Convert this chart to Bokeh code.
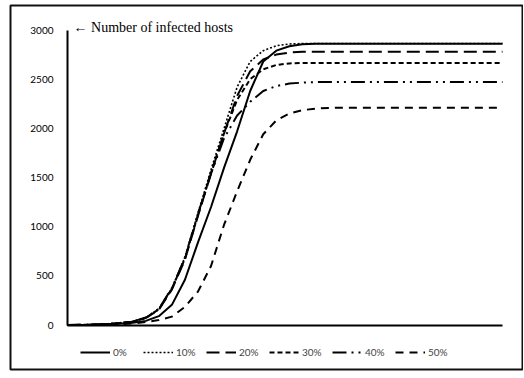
from bokeh.plotting import figure
from bokeh.models import LinearAxis, Range1d, Label, Legend, LegendItem, FixedTicker
from bokeh.embed import file_html
from bokeh.resources import INLINE

# time steps (arbitrary units; no x tick labels in the original)
t = [0, 5, 10, 15, 18, 21, 24, 27, 30, 33, 36, 39, 42, 45, 48, 51, 54, 57, 60, 70, 80, 90, 100]

hosts_0 = [0, 2, 8, 22, 42, 90, 205, 460, 840, 1200, 1600, 1970, 2380, 2680, 2790, 2835, 2855, 2860, 2860, 2860, 2860, 2860, 2860]
hosts_10 = [0, 3, 12, 34, 72, 160, 370, 690, 1140, 1580, 2000, 2420, 2680, 2790, 2840, 2858, 2862, 2862, 2862, 2862, 2862, 2862, 2862]
hosts_20 = [0, 3, 12, 34, 72, 155, 360, 665, 1110, 1540, 1950, 2330, 2580, 2700, 2750, 2770, 2780, 2780, 2780, 2780, 2780, 2780, 2780]
hosts_30 = [0, 3, 12, 34, 72, 160, 370, 675, 1120, 1550, 1950, 2290, 2500, 2600, 2645, 2660, 2665, 2665, 2665, 2665, 2665, 2665, 2665]
hosts_40 = [0, 3, 12, 35, 76, 165, 375, 685, 1130, 1540, 1900, 2130, 2270, 2380, 2430, 2455, 2465, 2470, 2470, 2470, 2470, 2470, 2470]
hosts_50 = [0, 2, 6, 15, 30, 50, 85, 185, 340, 600, 1020, 1360, 1680, 1940, 2080, 2150, 2185, 2200, 2208, 2210, 2210, 2210, 2210]

labels = ["0%", "10%", "20%", "30%", "40%", "50%"]
series = [hosts_0, hosts_10, hosts_20, hosts_30, hosts_40, hosts_50]
dashes = ["solid", "2 2", "13 6", "5 3", "14 5 2 5 2 5", "8 6"]
widths = [2, 1.6, 2, 2, 2, 2]

y_ticks = [0, 500, 1000, 1500, 2000, 2500, 3000]

p = figure(width=523, height=371, output_backend="svg", toolbar_location=None,
           x_axis_type=None, y_axis_type=None,
           x_range=Range1d(-13.10, 104.6), y_range=Range1d(-452.5, 3249.2),
           min_border=0, min_border_left=10, min_border_right=1,
           min_border_top=5, min_border_bottom=2)
p.background_fill_color = "white"
p.border_fill_color = "white"
p.outline_line_color = "#111111"
p.outline_line_width = 2
p.xgrid.visible = False
p.ygrid.visible = False

yax = LinearAxis(fixed_location=0, bounds=(0, 3000), ticker=FixedTicker(ticks=y_ticks))
yax.major_tick_line_color = None
yax.minor_tick_line_color = None
yax.major_tick_out = 0
yax.major_tick_in = 0
yax.axis_line_width = 2
yax.major_label_standoff = 14
yax.major_label_text_font = "Lato"
yax.major_label_text_font_size = "10px"
yax.major_label_text_color = "black"
p.add_layout(yax, "left")

xax = LinearAxis(fixed_location=0, bounds=(0, 100), ticker=FixedTicker(ticks=[]))
xax.major_tick_line_color = None
xax.minor_tick_line_color = None
xax.major_tick_out = 0
xax.major_label_text_font_size = "0px"
xax.axis_line_width = 2
p.add_layout(xax, "below")

items = []
for lab, ys, d, w in zip(labels, series, dashes, widths):
    r = p.line(t, ys, line_color="black", line_width=w, line_dash=d)
    items.append(LegendItem(label=lab, renderers=[r]))

legend = Legend(items=items, orientation="horizontal", location=(70, 10),
                glyph_width=30, glyph_height=14, label_standoff=3, spacing=10,
                padding=0, margin=0, border_line_color=None,
                background_fill_alpha=0,
                label_text_font="Lato", label_text_font_size="10px")
p.add_layout(legend, "center")

ann = Label(x=1.4, y=3030, text="\u2190 Number of infected hosts",
            text_font="Liberation Serif", text_font_size="14px",
            text_baseline="middle", text_color="black")
p.add_layout(ann)

open("out.html", "w").write(file_html(p, INLINE))
